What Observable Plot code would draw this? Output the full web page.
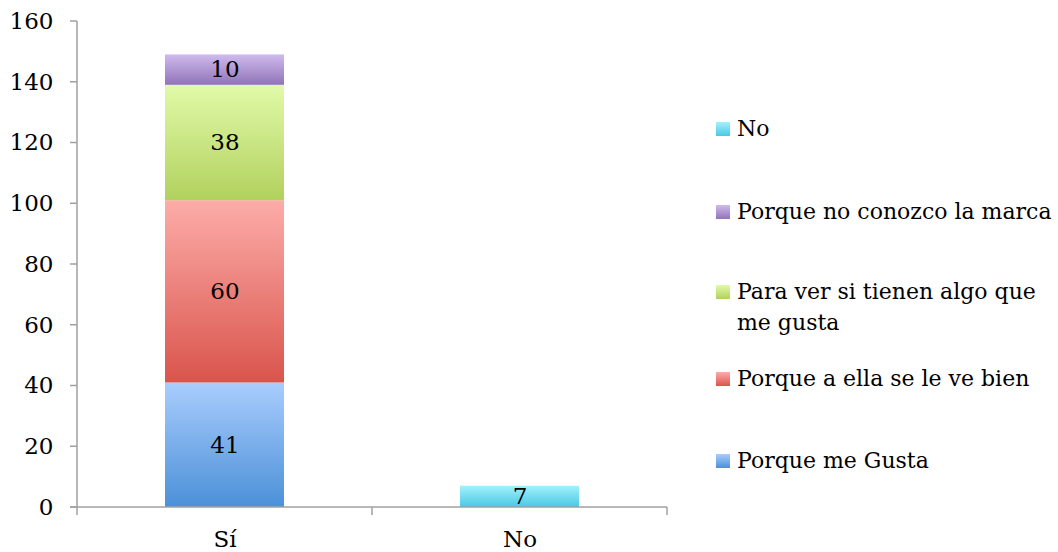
<!DOCTYPE html>
<html><head><meta charset="utf-8">
<script src="https://cdn.jsdelivr.net/npm/d3@7"></script>
<script src="https://cdn.jsdelivr.net/npm/@observablehq/plot@0.6"></script>
<style>
body{margin:0;background:#fff;font-family:"DejaVu Serif",serif;}
#wrap{position:relative;width:1058px;height:552px;}
#legend{position:absolute;left:716px;top:0;}
.item{position:absolute;left:0;display:flex;align-items:flex-start;white-space:nowrap;font-size:22px;color:#000;line-height:31px;}
.sw{width:14px;height:14px;margin-top:9px;margin-right:7px;flex:none;}
</style></head>
<body><div id="wrap"><div id="legend"></div></div>
<script>
const categories = ["Sí", "No"];
const series = ["Porque me Gusta", "Porque a ella se le ve bien", "Para ver si tienen algo que me gusta", "Porque no conozco la marca", "No"];
const siValues = [41, 60, 38, 10, 0];
const noValues = [0, 0, 0, 0, 7];
const yTicks = [0, 20, 40, 60, 80, 100, 120, 140, 160];
const legendOrder = ["No", "Porque no conozco la marca", "Para ver si tienen algo que me gusta", "Porque a ella se le ve bien", "Porque me Gusta"];
const legendLabels = {"Para ver si tienen algo que me gusta": "Para ver si tienen algo que<br>me gusta"};
const gradients = [["#a9cdfd", "#4b90d8"], ["#fdaca9", "#d9554c"], ["#e1faa9", "#b1d15d"], ["#cfbbee", "#9173b8"], ["#a2f1fd", "#4ac8e4"]];

const data = [];
categories.forEach((c, ci) => {
  const vals = ci === 0 ? siValues : noValues;
  series.forEach((s, si) => { if (vals[si] > 0) data.push({cat: c, series: s, value: vals[si]}); });
});

const W = 1058, H = 552, ml = 77, mr = 391, mt = 21, mb = 45;

const defs = () => {
  const svg = d3.create("svg:g");
  const d = svg.append("defs");
  series.forEach((s, i) => {
    const g = d.append("linearGradient").attr("id", "g" + i).attr("x1", 0).attr("y1", 0).attr("x2", 0).attr("y2", 1);
    g.append("stop").attr("offset", "0%").attr("stop-color", gradients[i][0]);
    g.append("stop").attr("offset", "100%").attr("stop-color", gradients[i][1]);
  });
  const f = d.append("filter").attr("id", "shadow").attr("x", "-10%").attr("y", "-10%").attr("width", "130%").attr("height", "130%");
  f.append("feDropShadow").attr("dx", 1).attr("dy", 1).attr("stdDeviation", 1.5).attr("flood-color", "#000").attr("flood-opacity", 0.25);
  return svg.node();
};

const axes = (index, scales, values, dims) => {
  const g = d3.create("svg:g").attr("stroke", "#a0a0a0").attr("stroke-width", 1.5).attr("fill", "none");
  const y0 = scales.y(0), yTop = scales.y(160);
  const x0 = dims.marginLeft, x1 = dims.width - dims.marginRight;
  g.append("line").attr("x1", x0).attr("x2", x0).attr("y1", yTop).attr("y2", y0 + 8);
  yTicks.forEach(t => g.append("line").attr("x1", x0 - 7).attr("x2", x0).attr("y1", scales.y(t)).attr("y2", scales.y(t)));
  g.append("line").attr("x1", x0 - 7).attr("x2", x1).attr("y1", y0).attr("y2", y0);
  const step = (x1 - x0) / categories.length;
  for (let i = 1; i <= categories.length; i++) {
    g.append("line").attr("x1", x0 + step * i).attr("x2", x0 + step * i).attr("y1", y0).attr("y2", y0 + 8);
  }
  return g.node();
};

const chart = Plot.plot({
  width: W, height: H, marginLeft: ml, marginRight: mr, marginTop: mt, marginBottom: mb,
  style: {fontFamily: "DejaVu Serif, serif", fontSize: "23px", color: "#000", background: "transparent"},
  x: {domain: categories, paddingInner: 0.597, paddingOuter: 0.2985, label: null},
  y: {domain: [0, 160], label: null},
  color: {domain: series, range: series.map((s, i) => `url(#g${i})`)},
  marks: [
    defs,
    Plot.barY(data, Plot.stackY({x: "cat", y: "value", fill: "series", order: series, style: "filter:url(#shadow)"})),
    Plot.text(data, Plot.stackY({x: "cat", y: "value", z: "series", order: series, text: d => String(d.value), fill: "#000", fontSize: 23})),
    axes,
    Plot.axisY({ticks: yTicks, tickSize: 0, tickPadding: 24, fontSize: 23, fill: "#000", label: null}),
    Plot.axisX({tickSize: 0, tickPadding: 23, fontSize: 23, fill: "#000", label: null})
  ]
});
chart.style.position = "absolute";
chart.style.left = "0"; chart.style.top = "0";
const wrap = document.getElementById("wrap");
wrap.insertBefore(chart, wrap.firstChild);

const tops = {"No": 113, "Porque no conozco la marca": 196, "Para ver si tienen algo que me gusta": 276, "Porque a ella se le ve bien": 363, "Porque me Gusta": 445};
const leg = document.getElementById("legend");
legendOrder.forEach(s => {
  const i = series.indexOf(s);
  const it = document.createElement("div");
  it.className = "item";
  it.style.top = tops[s] + "px";
  it.innerHTML = `<div class="sw" style="background:linear-gradient(${gradients[i][0]},${gradients[i][1]})"></div><div>${legendLabels[s] || s}</div>`;
  leg.appendChild(it);
});
</script></body></html>
